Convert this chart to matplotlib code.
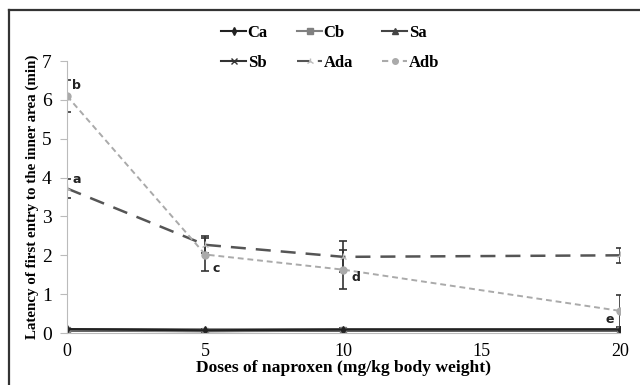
import numpy as np
import matplotlib.pyplot as plt
from matplotlib.lines import Line2D

plt.rcParams['font.family'] = 'Liberation Serif'

# doses (mg/kg) and mean latencies (min) per group
doses = [0, 5, 10, 20]
ca = [0.10, 0.07, 0.09, 0.09]
cb = [0.08, 0.06, 0.08, 0.08]
sa = [0.09, 0.08, 0.08, 0.09]
sb = [0.07, 0.06, 0.07, 0.07]
ada = [3.72, 2.27, 1.96, 2.00]
adb = [6.10, 2.02, 1.63, 0.57]
ada_err = [0.25, 0.22, 0.40, 0.20]
adb_err = [0.40, 0.42, 0.50, 0.42]
ctl_err = [0.03, 0.03, 0.03, 0.03]

# significance letters
letters = ['b', 'a', 'c', 'd', 'e']
letter_x = [0.35, 0.35, 5.4, 10.45, 19.62]
letter_y = [6.38, 3.94, 1.65, 1.42, 0.36]

fig = plt.figure(figsize=(6.4, 3.85), dpi=100)
ax = fig.add_axes([0.1047, 0.135, 0.864, 0.7065])

ebar = dict(ecolor='#333333', elinewidth=1.2, capsize=3, capthick=1.2)

styles = {
    'Sa': dict(color='#444444', lw=2.2, marker='^', ms=5),
    'Sb': dict(color='#333333', lw=2.2, marker='x', ms=5),
    'Cb': dict(color='#808080', lw=2.2, marker='s', ms=5),
    'Ca': dict(color='#222222', lw=1.6, marker='d', ms=4),
    'Ada': dict(color='#555555', lw=1.8, dashes=(6, 4), marker='2', ms=6, mec='#bbbbbb'),
    'Adb': dict(color='#aaaaaa', lw=1.4, dashes=(3, 2), marker='o', ms=5, mec='#aaaaaa', mfc='#aaaaaa'),
}
series = {'Sa': (sa, ctl_err), 'Sb': (sb, ctl_err), 'Cb': (cb, ctl_err), 'Ca': (ca, ctl_err),
          'Ada': (ada, ada_err), 'Adb': (adb, adb_err)}

for name, (vals, err) in series.items():
    ax.errorbar(doses, vals, yerr=err, **styles[name], **ebar)

for t, x, y in zip(letters, letter_x, letter_y):
    ax.text(x, y, t, ha='center', va='center', fontsize=9, fontweight='bold',
            family='DejaVu Sans', color='#222222')

ax.set_xlim(0, 20)
ax.set_ylim(0, 7)
ax.set_xticks([0, 5, 10, 15, 20])
ax.set_yticks(range(8))
for s in ['top', 'right']:
    ax.spines[s].set_visible(False)
ax.spines['left'].set_color('#bbbbbb')
ax.spines['bottom'].set_color('#bbbbbb')
ax.tick_params(axis='y', length=5, color='#bbbbbb', labelsize=14, pad=6)
ax.tick_params(axis='x', length=0, labelsize=13, pad=7)

ax.set_xlabel('Doses of naproxen (mg/kg body weight)', fontsize=12.6, fontweight='bold', labelpad=0)
ax.set_ylabel('Latency of first entry to the inner area (min)', fontsize=10.8,
              fontweight='bold', labelpad=2)

# legend filled row by row: Ca Cb Sa / Sb Ada Adb
order = ['Ca', 'Sb', 'Cb', 'Ada', 'Sa', 'Adb']
handles = [Line2D([], [], **{k: v for k, v in styles[n].items() if k != 'ms'},
                  ms=4 if n != 'Ada' else 5) for n in order]
for h in handles:
    h.set_linewidth(1.5)
fig.legend(handles, order, ncol=3, frameon=False,
           loc='upper left', bbox_to_anchor=(0.322, 0.975),
           prop={'family': 'Liberation Serif', 'weight': 'bold', 'size': 12},
           handlelength=1.5, handletextpad=0.1, columnspacing=1.75, labelspacing=0.85)

# frame lines on the left and top of the figure
fig.add_artist(Line2D([9 / 640, 9 / 640], [0, 1 - 10 / 385], transform=fig.transFigure,
                      color='#333333', lw=1.6))
fig.add_artist(Line2D([9 / 640, 1], [1 - 10 / 385, 1 - 10 / 385], transform=fig.transFigure,
                      color='#333333', lw=1.6))

fig.savefig('out.png', dpi=100)
